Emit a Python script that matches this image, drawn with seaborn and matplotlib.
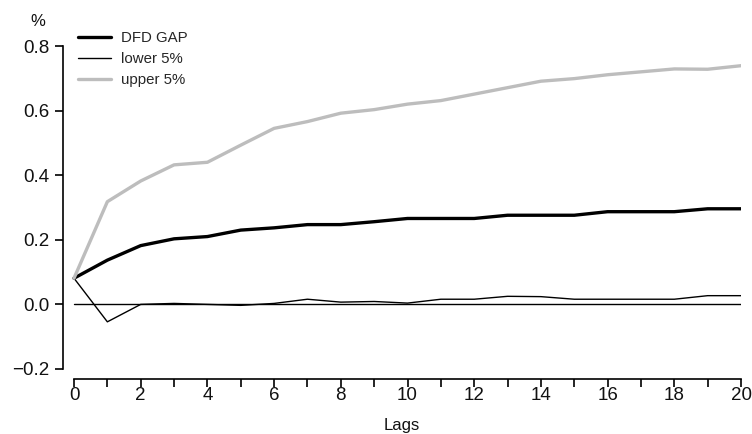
import matplotlib
matplotlib.use("Agg")
import matplotlib.pyplot as plt
import seaborn as sns
import pandas as pd
import numpy as np

lags = list(range(21))
dfd_gap = [0.081, 0.137, 0.182, 0.203, 0.210, 0.230, 0.237, 0.247, 0.247, 0.256, 0.266,
           0.266, 0.266, 0.276, 0.276, 0.276, 0.287, 0.287, 0.287, 0.296, 0.296]
lower_5 = [0.081, -0.054, 0.000, 0.003, 0.000, -0.003, 0.003, 0.016, 0.007, 0.009, 0.004,
           0.016, 0.016, 0.025, 0.024, 0.016, 0.016, 0.016, 0.016, 0.027, 0.027]
upper_5 = [0.081, 0.318, 0.382, 0.432, 0.440, 0.493, 0.545, 0.566, 0.592, 0.603, 0.620,
           0.631, 0.651, 0.671, 0.691, 0.699, 0.711, 0.720, 0.729, 0.728, 0.739]
series_names = ["DFD GAP", "lower 5%", "upper 5%"]
y_ticks = [-0.2, 0.0, 0.2, 0.4, 0.6, 0.8]
y_tick_labels = ["\u22120.2", "0.0", "0.2", "0.4", "0.6", "0.8"]

sns.set_theme(style="white")
plt.rcParams["font.family"] = ["Liberation Sans", "DejaVu Sans"]

df = pd.DataFrame({
    "Lags": lags * 3,
    "value": dfd_gap + lower_5 + upper_5,
    "series": sum([[n] * len(lags) for n in series_names], []),
})

fig = plt.figure(figsize=(7.52, 4.34), dpi=100)
ax = fig.add_axes([63 / 752, 1 - 379 / 434, (741 - 63) / 752, (379 - 46) / 434])

ax.axhline(0, xmin=0.33 / 20.33, xmax=1, color="black", lw=1.0, zorder=1)

palette = {"DFD GAP": "black", "lower 5%": "black", "upper 5%": "#bdbdbd"}
sizes = {"DFD GAP": 2.4, "lower 5%": 1.0, "upper 5%": 2.4}
sns.lineplot(data=df, x="Lags", y="value", hue="series", size="series",
             palette=palette, sizes=sizes, hue_order=series_names,
             size_order=series_names, ax=ax, legend=False, zorder=2)

ax.set_xlim(-0.33, 20)
ax.set_ylim(-0.231, 0.8)
ax.set_xticks(range(0, 21, 2))
ax.set_xticks(range(0, 21), minor=True)
ax.set_yticks(y_ticks)
ax.set_yticklabels(y_tick_labels)

for s in ["top", "right"]:
    ax.spines[s].set_visible(False)
ax.spines["left"].set_bounds(-0.2, 0.8)
ax.spines["bottom"].set_bounds(0, 20)
for s in ["left", "bottom"]:
    ax.spines[s].set_color("black")
    ax.spines[s].set_linewidth(1.2)

ax.tick_params(axis="both", which="both", direction="out", length=5.5, width=1.2,
               color="black", labelsize=13.5, labelcolor="#111111")
ax.tick_params(axis="x", which="both", bottom=True, pad=0.5)
ax.tick_params(axis="y", left=True, pad=4)
ax.set_xlabel("Lags", fontsize=12, labelpad=10, color="#111111")
ax.set_ylabel("")

fig.text(38 / 752, 1 - 22 / 434, "%", fontsize=12, ha="center", va="center", color="#111111")

handles = [
    plt.Line2D([], [], color="black", lw=2.4),
    plt.Line2D([], [], color="black", lw=1.0),
    plt.Line2D([], [], color="#bdbdbd", lw=2.4),
]
ax.legend(handles, series_names, loc="upper left",
          bbox_to_anchor=(67 / 752, 1 - 21 / 434), bbox_transform=fig.transFigure,
          frameon=False, fontsize=10.8, handlelength=2.2, handletextpad=0.7,
          labelspacing=0.45, borderpad=0.2)

fig.savefig("out.png", dpi=100)
